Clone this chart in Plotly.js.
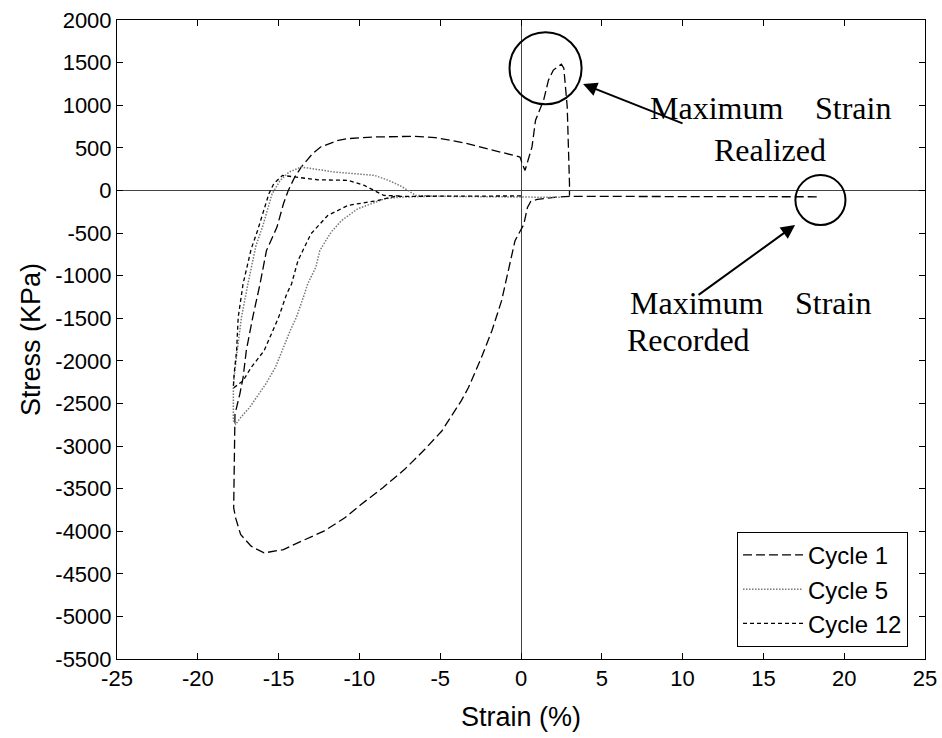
<!DOCTYPE html>
<html>
<head>
<meta charset="utf-8">
<script src="https://cdn.plot.ly/plotly-3.0.1.min.js"></script>
<style>html,body{margin:0;padding:0;background:#fff;}#chart{width:942px;height:738px;}</style>
</head>
<body>
<div id="chart"></div>
<script>
// Cycle 1 (strain %, stress kPa)
var cycle1Strain = [18.3, 10, 3.0, 2.2, 1.5, 1.0, 0.6, 0.4, 0.27, 0.17, -0.37, -1.0, -1.2, -1.8, -2.45, -3.25, -3.7, -4.3, -4.9, -5.95, -7.2, -8.55, -9.9, -10.9, -12.2, -13.6, -14.7, -15.9, -16.7, -17.35, -17.66, -17.78, -17.75, -17.75, -17.7, -17.4, -17.2, -17.0, -16.6, -16.15, -15.75, -15.1, -14.7, -14.4, -14.0, -13.6, -12.9, -12.4, -11.3, -10.7, -9.1, -6.6, -5.3, -3.5, -1.6, -0.06, 0.1, 0.25, 0.68, 0.9, 1.4, 1.7, 2.0, 2.5, 2.65, 2.75, 2.86, 3.0, 3.0];
var cycle1Stress = [-75, -70, -70, -78, -90, -105, -130, -200, -314, -400, -590, -1137, -1294, -1647, -1961, -2314, -2470, -2647, -2824, -3039, -3274, -3490, -3686, -3843, -4000, -4118, -4216, -4255, -4176, -4039, -3843, -3726, -3137, -2784, -2627, -2390, -2200, -1882, -1490, -1098, -706, -431, -157, 0, 157, 274, 431, 510, 588, 608, 627, 635, 620, 557, 462, 392, 300, 235, 510, 824, 1059, 1294, 1412, 1482, 1435, 1215, 980, 82, -60];

// Cycle 5
var cycle5Strain = [2.4, 1.3, -5.5, -7.5, -8.44, -10.1, -11.1, -11.75, -12.2, -12.45, -12.7, -13.2, -13.4, -13.9, -14.24, -14.76, -15.2, -15.8, -16.5, -16.8, -17.35, -17.66, -17.8, -17.8, -17.56, -17.3, -16.9, -16.5, -16.4, -16.0, -15.7, -15.4, -14.9, -14.35, -13.6, -13.0, -11.55, -9.06, -8.2, -7.4, -6.9, -6.5, -5.5];
var cycle5Stress = [-80, -80, -68, -80, -98, -216, -353, -490, -627, -706, -902, -1098, -1216, -1490, -1627, -1882, -2078, -2274, -2470, -2549, -2667, -2745, -2700, -2274, -1882, -1490, -1098, -706, -647, -431, -235, -39, 118, 216, 274, 255, 216, 176, 118, 47, -8, -60, -65];

// Cycle 12
var cycle12Strain = [0, -7.8, -8.85, -10.7, -11.96, -13.0, -13.5, -13.8, -14.2, -14.5, -15.0, -15.3, -15.9, -16.7, -17.2, -17.8, -17.75, -17.6, -17.5, -17.2, -16.7, -16.3, -16.0, -15.6, -15.3, -14.76, -14.1, -13.0, -12.6, -10.7, -9.7, -9.1, -8.5, -7.5];
var cycle12Stress = [-65, -70, -118, -176, -294, -510, -706, -824, -1098, -1216, -1490, -1627, -1882, -2078, -2235, -2320, -2150, -1882, -1490, -1098, -690, -470, -275, -39, 78, 176, 160, 135, 125, 118, 59, 0, -59, -65];

var seriesNames = ['Cycle 1', 'Cycle 5', 'Cycle 12'];
var xTickVals = [-25, -20, -15, -10, -5, 0, 5, 10, 15, 20, 25];
var yTickVals = [2000, 1500, 1000, 500, 0, -500, -1000, -1500, -2000, -2500, -3000, -3500, -4000, -4500, -5000, -5500];

var sans = 'Liberation Sans, Arial, sans-serif';
var serif = 'Liberation Serif, Times New Roman, serif';

var traces = [
  {x: cycle1Strain, y: cycle1Stress, name: seriesNames[0], mode: 'lines', line: {color: '#000', width: 1.3, dash: '9px,4px'}},
  {x: cycle5Strain, y: cycle5Stress, name: seriesNames[1], mode: 'lines', line: {color: '#777', width: 1.5, dash: '1.5px,1.5px'}},
  {x: cycle12Strain, y: cycle12Stress, name: seriesNames[2], mode: 'lines', line: {color: '#000', width: 1.3, dash: '4px,3px'}}
];

var annFont = {family: serif, size: 32, color: '#000'};

var layout = {
  width: 942, height: 738,
  margin: {l: 117, r: 17, t: 20, b: 79},
  paper_bgcolor: '#fff', plot_bgcolor: '#fff',
  font: {family: sans, color: '#000'},
  showlegend: true,
  xaxis: {
    range: [-25, 25], tickvals: xTickVals, ticktext: xTickVals.map(String),
    ticks: 'inside', ticklen: 6, tickcolor: '#000', mirror: 'ticks', showline: true, linecolor: '#000', linewidth: 1,
    showgrid: false, zeroline: true, zerolinecolor: '#444', zerolinewidth: 1,
    tickfont: {size: 22, family: sans}, automargin: false,
    title: {text: 'Strain (%)', font: {size: 27, family: sans}, standoff: 16}
  },
  yaxis: {
    range: [-5500, 2000], tickvals: yTickVals, ticktext: yTickVals.map(String),
    ticks: 'inside', ticklen: 6, tickcolor: '#000', mirror: 'ticks', showline: true, linecolor: '#000', linewidth: 1,
    showgrid: false, zeroline: true, zerolinecolor: '#444', zerolinewidth: 1,
    tickfont: {size: 22, family: sans}, automargin: false,
    title: {text: 'Stress (KPa)', font: {size: 27, family: sans}, standoff: 6}
  },
  legend: {
    x: 0.979, xanchor: 'right', y: 0.019, yanchor: 'bottom',
    bordercolor: '#000', borderwidth: 1, bgcolor: '#fff',
    font: {size: 24, family: sans}, itemwidth: 60, tracegroupgap: 0
  },
  shapes: [
    {type: 'circle', xref: 'x', yref: 'y', x0: -0.71, x1: 3.75, y0: 1010, y1: 1856, line: {color: '#000', width: 2}},
    {type: 'circle', xref: 'x', yref: 'y', x0: 16.98, x1: 20.08, y0: -406, y1: 180, line: {color: '#000', width: 2}}
  ],
  annotations: [
    {x: 3.84, y: 1249, xref: 'x', yref: 'y', showarrow: true, ax: 101, ay: 40, axref: 'pixel', ayref: 'pixel', arrowhead: 2, arrowsize: 1.4, arrowwidth: 2, arrowcolor: '#000', text: ''},
    {x: 16.96, y: -406, xref: 'x', yref: 'y', showarrow: true, ax: -98, ay: 71, axref: 'pixel', ayref: 'pixel', arrowhead: 2, arrowsize: 1.4, arrowwidth: 2, arrowcolor: '#000', text: ''},
    {x: 12.07, y: 967, xref: 'x', yref: 'y', xanchor: 'center', yanchor: 'middle', showarrow: false, text: 'Maximum', font: annFont},
    {x: 20.54, y: 967, xref: 'x', yref: 'y', xanchor: 'center', yanchor: 'middle', showarrow: false, text: 'Strain', font: annFont},
    {x: 15.41, y: 473, xref: 'x', yref: 'y', xanchor: 'center', yanchor: 'middle', showarrow: false, text: 'Realized', font: annFont},
    {x: 10.83, y: -1322, xref: 'x', yref: 'y', xanchor: 'center', yanchor: 'middle', showarrow: false, text: 'Maximum', font: annFont},
    {x: 19.31, y: -1322, xref: 'x', yref: 'y', xanchor: 'center', yanchor: 'middle', showarrow: false, text: 'Strain', font: annFont},
    {x: 6.44, y: -1756, xref: 'x', yref: 'y', xanchor: 'left', yanchor: 'middle', showarrow: false, text: 'Recorded', font: annFont}
  ]
};

Plotly.newPlot('chart', traces, layout, {staticPlot: true, displayModeBar: false});
</script>
</body>
</html>
